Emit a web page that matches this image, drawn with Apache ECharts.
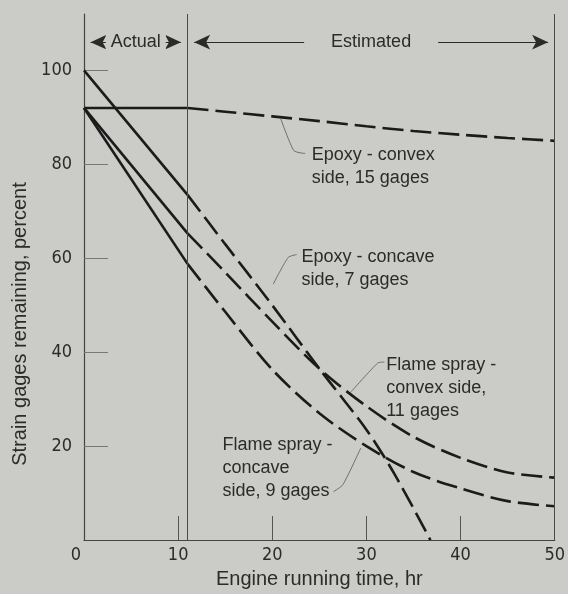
<!DOCTYPE html>
<html>
<head>
<meta charset="utf-8">
<script src="https://cdn.jsdelivr.net/npm/echarts@6/dist/echarts.min.js"></script>
<style>
  html, body { margin: 0; padding: 0; background: #cbcbc7; }
  #chart { width: 568px; height: 594px; }
</style>
</head>
<body>
<div id="chart"></div>
<script>
// hours
const actualHours = [0, 11]
const estHours = [11, 15, 20, 25, 30, 35, 40, 45, 50]
const epoxyConcaveHours = [11, 15, 20, 25, 30, 33, 36.8]

// strain gages remaining, percent
const epoxyConvexActual = [92, 92]
const epoxyConvexEst = [92, 91.2, 90.2, 89.2, 88.1, 87.1, 86.3, 85.6, 85]
const epoxyConcaveActual = [100, 73.5]
const epoxyConcaveEst = [73.5, 63, 50, 36.5, 23.5, 14, 0]
const flameConvexActual = [92, 65.3]
const flameConvexEst = [65.3, 57, 46.5, 36.5, 28.5, 22, 17.5, 14.4, 13.3]
const flameConcaveActual = [92, 58.8]
const flameConcaveEst = [58.8, 48.6, 36.3, 27, 20, 14.5, 11, 8.3, 7.2]

const xTicks = [0, 10, 20, 30, 40, 50]
const yTicks = [20, 40, 60, 80, 100]

// header: Actual / Estimated
const phaseNames = ['Actual', 'Estimated']
const phaseBounds = [[0, 11], [11, 50]]
const headerLevel = 106

// callouts: text, text anchor, leader points
const noteTexts = [
  'Epoxy - convex\nside, 15 gages',
  'Epoxy - concave\nside, 7 gages',
  'Flame spray -\nconvex side,\n11 gages',
  'Flame spray -\nconcave\nside, 9 gages'
]
const noteAnchors = [[24.2, 79.5], [23.1, 57.8], [32.1, 32.4], [14.7, 15.4]]
const noteLeaders = [
  [[20.9, 89.7], [22.3, 82.9], [23.5, 82.3]],
  [[20.1, 54.5], [21.7, 60.2], [22.6, 60.8]],
  [[28.3, 31.4], [31.2, 37.7], [31.9, 37.9]],
  [[29.4, 19.6], [27.5, 11.8], [26.5, 10.3]]
]

const ink = '#1b1b1b'
const bg = '#cbcbc7'
const txt = '#2b2b2b'
const font = 'Liberation Sans, Arial, sans-serif'
const numFont = 'Liberation Sans Narrow, DejaVu Sans Condensed, sans-serif'

function pairs (xs, ys) {
  return xs.map((x, i) => [x, ys[i]])
}

function curve (xs, ys, dashed) {
  return {
    type: 'line',
    data: pairs(xs, ys),
    symbol: 'none',
    smooth: dashed ? 0.3 : false,
    lineStyle: {
      color: ink,
      width: 2.6,
      type: dashed ? [21, 7] : 'solid'
    },
    silent: true,
    z: 3
  }
}

let series = [
  curve(actualHours, epoxyConvexActual, false),
  curve(estHours, epoxyConvexEst, true),
  curve(actualHours, epoxyConcaveActual, false),
  curve(epoxyConcaveHours, epoxyConcaveEst, true),
  curve(actualHours, flameConvexActual, false),
  curve(estHours, flameConvexEst, true),
  curve(actualHours, flameConcaveActual, false),
  curve(estHours, flameConcaveEst, true)
]

// leader lines + callout text
noteLeaders.forEach((pts, i) => {
  series.push({
    type: 'line',
    data: pts,
    symbol: 'none',
    smooth: 0.2,
    lineStyle: { color: '#6e6e6c', width: 1 },
    silent: true,
    z: 2,
    markPoint: {
      symbol: 'circle',
      symbolSize: 0,
      silent: true,
      data: [{ coord: noteAnchors[i] }],
      label: {
        show: true,
        position: 'right',
        distance: 0,
        formatter: noteTexts[i],
        color: txt,
        fontFamily: font,
        fontSize: 18,
        lineHeight: 23,
        align: 'left'
      }
    }
  })
})

// frame lines and header arrows
series.push({
  type: 'line',
  data: [],
  silent: true,
  markLine: {
    silent: true,
    symbol: 'none',
    animation: false,
    lineStyle: { color: '#4a4a4a', width: 1, type: 'solid' },
    label: { show: false },
    data: [
      { xAxis: phaseBounds[0][1] },
      { xAxis: phaseBounds[1][1] }
    ].concat(phaseNames.map((name, i) => [
      {
        coord: [phaseBounds[i][0] + 0.7, headerLevel],
        symbol: 'arrow',
        symbolSize: [11, 16],
        lineStyle: { color: '#2a2a2a', width: 1, type: 'solid' },
        label: {
          show: true,
          position: 'middle',
          distance: 0,
          verticalAlign: 'middle',
          formatter: name,
          color: txt,
          fontFamily: font,
          fontSize: 18,
          backgroundColor: bg,
          padding: i === 0 ? [3, 5] : [3, 27]
        }
      },
      {
        coord: [phaseBounds[i][1] - 0.7, headerLevel],
        symbol: 'arrow',
        symbolSize: [11, 16]
      }
    ]))
  }
})

let option = {
  backgroundColor: bg,
  animation: false,
  grid: {
    left: 84,
    right: 10,
    top: 14,
    bottom: 48
  },
  xAxis: {
    type: 'value',
    min: 0,
    max: 50,
    interval: 10,
    name: 'Engine running time, hr',
    nameLocation: 'middle',
    nameGap: 23,
    nameTextStyle: { color: txt, fontFamily: font, fontSize: 20 },
    axisLine: { lineStyle: { color: '#444', width: 1.2 } },
    axisTick: {
      inside: true,
      length: 24,
      customValues: [10, 20, 30, 40],
      lineStyle: { color: '#555', width: 1 }
    },
    axisLabel: {
      customValues: xTicks,
      margin: 6,
      color: txt,
      fontFamily: numFont,
      fontSize: 18,
      formatter: v => v === 0 ? '{z|0}' : String(v),
      rich: {
        z: {
          padding: [0, 16, 0, 0],
          color: txt,
          fontFamily: numFont,
          fontSize: 18
        }
      }
    },
    splitLine: { show: false }
  },
  yAxis: {
    type: 'value',
    min: 0,
    max: 112,
    interval: 20,
    name: 'Strain gages remaining, percent',
    nameLocation: 'middle',
    nameRotate: 90,
    nameGap: 48,
    nameTextStyle: {
      color: txt,
      fontFamily: font,
      fontSize: 20,
      padding: [0, 94, 0, 0]
    },
    axisLine: { show: true, lineStyle: { color: '#444', width: 1.2 } },
    axisTick: {
      show: true,
      inside: true,
      length: 24,
      customValues: yTicks,
      lineStyle: { color: '#777', width: 1 }
    },
    axisLabel: {
      customValues: yTicks,
      margin: 12,
      color: txt,
      fontFamily: numFont,
      fontSize: 18
    },
    splitLine: { show: false }
  },
  series: series
}

var myChart = echarts.init(document.getElementById('chart'), null, { renderer: 'canvas' })
myChart.setOption(option)
</script>
</body>
</html>
